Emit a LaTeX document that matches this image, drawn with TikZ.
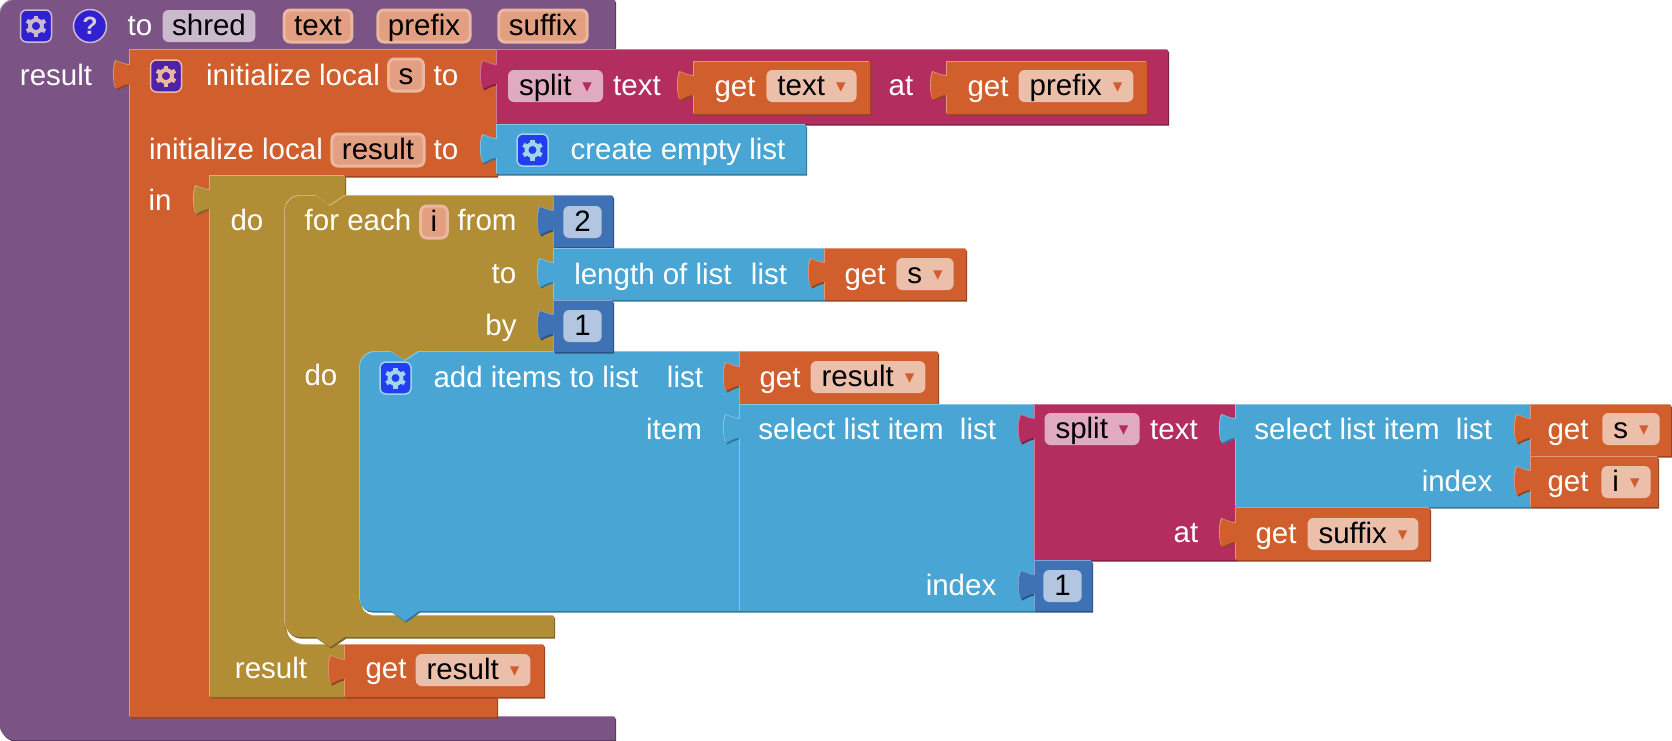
\documentclass[tikz,border=0pt]{standalone}
\usepackage{fontspec}
\setmainfont{Liberation Sans}
\newfontfamily\ddfont{DejaVu Sans}
\usepackage{tikz}
\usetikzlibrary{shapes.geometric}
\definecolor{pur}{HTML}{7C5385}
\definecolor{org}{HTML}{D05F2D}
\definecolor{pnk}{HTML}{B32D5E}
\definecolor{lst}{HTML}{49A6D4}
\definecolor{mth}{HTML}{3F71B5}
\definecolor{olv}{HTML}{B18E35}
\definecolor{tilepur}{HTML}{3020D0}
\definecolor{tileorg}{HTML}{4F22A8}
\definecolor{tilelst}{HTML}{2040F0}
\colorlet{purl}{pur!65!white}\colorlet{purd}{pur!70!black}
\colorlet{orgl}{org!65!white}\colorlet{orgd}{org!70!black}
\colorlet{pnkl}{pnk!65!white}\colorlet{pnkd}{pnk!70!black}
\colorlet{lstl}{lst!65!white}\colorlet{lstd}{lst!70!black}
\colorlet{mthl}{mth!65!white}\colorlet{mthd}{mth!70!black}
\colorlet{olvl}{olv!65!white}\colorlet{olvd}{olv!70!black}
\tikzset{
  lbl/.style={font=\fontsize{29.5}{32}\selectfont,text=white,inner sep=0pt,anchor=base},
  fld/.style={font=\fontsize{29.5}{32}\selectfont,text=black,inner xsep=11pt,inner ysep=1.5pt,
    text height=24pt,text depth=5pt,rounded corners=6pt},
  ddorg/.style={fld,fill=org!40!white},
  ddpnk/.style={fld,fill=pnk!40!white},
  numfld/.style={fld,fill=mth!40!white,minimum width=37pt},
  namefld/.style={fld,fill=pur!40!white,inner xsep=9.5pt},
  argfld/.style={fld,inner xsep=10pt,inner ysep=1.5pt,fill=org!60!white,draw=org!45!white,line width=3pt},
  tile/.style={draw,line width=1.5pt,minimum width=31pt,minimum height=32pt,inner sep=0pt,rounded corners=6pt},
  gear/.pic={
    \foreach \a in {0,60,...,300} { \draw[#1,line width=4.4pt,rotate=\a] (0,-6)--(0,-10.5); }
    \draw[#1,line width=4pt] (0,0) circle (6);
  },
}
% one block: dark edge, light edge, body
\newcommand{\blk}[2]{%
  \fill[#1d,shift={(1.2,1.6)}] #2;
  \fill[#1l,shift={(-0.8,-1)}] #2;
  \fill[#1] #2;}
% left puzzle tab on the edge x=#1 around y=#2
\newcommand{\tabL}[2]{-- (#1,#2-10) .. controls (#1-6,#2-10) and (#1-10,#2-13) .. (#1-14,#2-14)
  .. controls (#1-17,#2-8) and (#1-17,#2+8) .. (#1-14,#2+14)
  .. controls (#1-10,#2+12) and (#1-6,#2+9) .. (#1,#2+9)}
% plain value block with one tab
\newcommand{\val}[6]{\blk{#1}{(#2,#3) \tabL{#2}{#6} -- (#2,#5) -- (#4,#5) -- (#4,#3) -- cycle}}
\newcommand{\dd}[1]{\hspace{11pt}\raisebox{3pt}{\ddfont\fontsize{19}{19}\selectfont\textcolor{#1}{▾}}}
\begin{document}
\begin{tikzpicture}[x=1pt,y=-1pt]
  \useasboundingbox (0,0) rectangle (1672,740);
  % procedure
  \blk{pur}{(15,0) -- (615,0) -- (615,50) -- (130,50) -- (130,717) -- (615,717) -- (615,740) -- (15,740)
    .. controls (7,740) and (0,733) .. (0,725) -- (0,15) .. controls (0,7) and (7,0) .. (15,0) -- cycle}
  % initialize local
  \blk{org}{(130,50) \tabL{130}{75} -- (130,717) -- (497,717) -- (497,697) -- (210,697) -- (210,176)
    -- (497,176) -- (497,50) -- cycle}
  % do ... result
  \blk{olv}{(210,176) \tabL{210}{200} -- (210,697) -- (345,697) -- (345,645) -- (305,645)
    .. controls (294,645) and (285,636) .. (285,625) -- (285,212) .. controls (285,203) and (292,196) .. (300,196)
    -- (316,196) -- (330,206) -- (345,196) -- (345,176) -- cycle}
  % for each
  \blk{olv}{(300,196) .. controls (292,196) and (285,203) .. (285,211) -- (285,622)
    .. controls (285,630) and (292,637) .. (300,637) -- (316,637) -- (330,647) -- (345,637) -- (554,637) -- (554,616)
    -- (375,616) .. controls (367,616) and (360,609) .. (360,601) -- (360,367)
    .. controls (360,359) and (367,352) .. (375,352) -- (391,352) -- (405,361) -- (419,352) -- (554,352)
    -- (554,196) -- (345,196) -- (330,206) -- (316,196) -- cycle}
  % add items to list
  \blk{lst}{(375,352) .. controls (367,352) and (360,359) .. (360,367) -- (360,599)
    .. controls (360,606) and (365,611) .. (372,611) -- (391,611) -- (405,621) -- (419,611) -- (740,611)
    -- (740,352) -- (419,352) -- (405,361) -- (391,352) -- cycle}
  % value blocks
  \val{pnk}{497}{50}{1168}{124}{75}
  \val{org}{694}{62}{870}{114}{86}
  \val{org}{947}{62}{1147}{114}{86}
  \val{lst}{497}{125}{806}{174}{149}
  \val{mth}{554}{196}{613}{247}{221}
  \val{lst}{554}{249}{825}{300}{273}
  \val{org}{825}{249}{966}{300}{273}
  \val{mth}{554}{301}{613}{352}{325}
  \val{org}{740}{352}{938}{404}{377}
  \val{lst}{740}{405}{1035}{611}{429}
  \val{pnk}{1035}{405}{1236}{560}{429}
  \val{lst}{1236}{405}{1531}{507}{429}
  \val{org}{1531}{405}{1671}{456}{429}
  \val{org}{1531}{457}{1658}{507}{481}
  \val{org}{1236}{508}{1430}{560}{533}
  \val{mth}{1035}{561}{1092}{611}{585}
  \val{org}{345}{645}{544}{697}{670}
  % white labels
  \foreach \nm/\x/\y/\t in {lto/140/35/to,lres/56/85/result,linit/293/85/initialize local,lto1/446/85/to,
    linit2/236/159/initialize local,lto2/446/159/to,lin/160/210/in,ldo/247/230/do,
    lfor/358/230/for each,lfrom/487/230/from,lto3/504/283/to,lby/501/335/by,ldo2/321/385/do,
    ladd/536/387/add items to list,llist/685/387/list,litem/674/439/item,
    lsel/851/439/select list item,llist2/978/439/list,ltext/1174/439/text,
    lsel2/1347/439/select list item,llist3/1474/439/list,lidx/1457/491/index,lat/1186/542/at,
    lidx2/961/595/index,lres2/271/678/result,ltext2/637/95/text,lat2/901/95/at,
    llen/653/284/length of list,llist4/769/284/list,lcre/678/159/create empty list,
    lget1/735/96/get,lget2/988/96/get,lget3/865/284/get,lget4/780/387/get,lget5/1568/439/get,
    lget6/1568/491/get,lget7/1276/543/get,lget8/386/678/get}
    { \node[lbl] (\nm) at (\x,\y) {\t}; }
  % dropdown fields
  \foreach \nm/\x/\y/\t in {ftext/811.5/86/text,fpre/1076/86/prefix,fs/925/274/s,fres/868/377/result,
    fs2/1631/429/s,fi/1626/482/i,fsuf/1363/534/suffix,fres2/473/670/result}
    { \node[ddorg] (\nm) at (\x,\y) {\t\dd{org}}; }
  \node[ddpnk] (fsplit) at (555.5,86) {split\dd{pnk}};
  \node[ddpnk] (fsplit2) at (1092,429) {split\dd{pnk}};
  % numbers
  \node[numfld] (fnum2) at (582.5,222) {2};
  \node[numfld] (fnum1) at (582.5,326) {1};
  \node[numfld] (fnum3) at (1062.5,586) {1};
  % names and arguments
  \node[namefld] (fname) at (209,26) {shred};
  \foreach \nm/\x/\y/\t in {atext/318/26/text,apre/424/26/prefix,asuf/543/26/suffix,as/406/75/s,
    ares/378/150/result,ai/434/222/i}
    { \node[argfld] (\nm) at (\x,\y) {\t}; }
  % icons
  \node[tile,fill=tilepur,draw=pur!40!white] (tgear) at (36,26) {};
  \pic at (tgear) {gear=pur!40!white};
  \node[circle,fill=tilepur,draw=pur!40!white,line width=1.5pt,minimum size=33pt,inner sep=0pt,
    text=pur!30!white,font=\fontsize{25}{25}\selectfont\bfseries] (thelp) at (90,26) {?};
  \node[tile,fill=tileorg,draw=org!45!white] (tinit) at (166,76) {};
  \pic at (tinit) {gear=org!45!white};
  \node[tile,fill=tilelst,draw=lst!50!white] (tcre) at (532.5,150) {};
  \pic at (tcre) {gear=lst!50!white};
  \node[tile,fill=tilelst,draw=lst!50!white] (tadd) at (395.5,378) {};
  \pic at (tadd) {gear=lst!50!white};
\end{tikzpicture}
\end{document}
